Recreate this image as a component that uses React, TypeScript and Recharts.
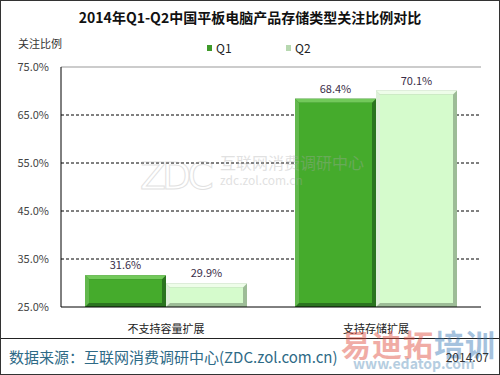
import React from 'react';
import { BarChart, Bar, XAxis, YAxis, CartesianGrid, LabelList, ReferenceLine } from 'recharts';

const categories = ['不支持容量扩展', '支持存储扩展'];
const q1Values = [31.6, 68.4];
const q2Values = [29.9, 70.1];
const yTicks = [25, 35, 45, 55, 65, 75];

const data = categories.map((name, i) => ({ name, Q1: q1Values[i], Q2: q2Values[i] }));

const FONT = '"Noto Sans CJK SC", "Noto Sans", sans-serif';

function makeBevel(main: string, light: string, dark: string) {
  return (props: any) => {
    const { x, y, width: w, height: h } = props;
    if (!w || !h) return null;
    const b = 4;
    return (
      <g>
        <rect x={x} y={y} width={w} height={h} fill={dark} />
        <polygon points={`${x},${y} ${x + w},${y} ${x + w - b},${y + b} ${x + b},${y + b}`} fill={light} />
        <polygon points={`${x},${y} ${x + b},${y + b} ${x + b},${y + h - b} ${x},${y + h}`} fill={light} opacity={0.8} />
        <rect x={x + b} y={y + b} width={w - 2 * b} height={h - 2 * b} fill={main} />
      </g>
    );
  };
}

const q1Shape = makeBevel('#45ab2c', '#72c95a', '#2b7420');
const q2Shape = makeBevel('#d5fbcc', '#eefde9', '#9dbc97');

const legendItems = [
  { label: 'Q1', color: '#3f9a2a', x: 206 },
  { label: 'Q2', color: '#b7d8b0', x: 285 },
];

export default function App() {
  return (
    <div
      style={{
        position: 'fixed',
        left: 0,
        top: 0,
        width: 500,
        height: 375,
        background: '#fff',
        boxSizing: 'border-box',
        border: '1px solid #333',
        fontFamily: FONT,
        overflow: 'hidden',
      }}
    >
      <div style={{ position: 'absolute', top: 6, left: 0, width: 498, textAlign: 'center', fontSize: 14, fontWeight: 'bold', color: '#111' }}>
        2014年Q1-Q2中国平板电脑产品存储类型关注比例对比
      </div>
      <div style={{ position: 'absolute', top: 34, left: 17, fontSize: 11, color: '#333' }}>关注比例</div>
      {legendItems.map((it) => (
        <div
          key={it.label}
          style={{ position: 'absolute', left: it.x, top: 38, display: 'flex', alignItems: 'center', fontSize: 12, color: '#222', zIndex: 2 }}
        >
          <span style={{ width: 5, height: 6, background: it.color, display: 'inline-block', marginRight: 4 }} />
          <span>{it.label}</span>
        </div>
      ))}

      <BarChart
        width={498}
        height={373}
        data={data}
        margin={{ top: 66, right: 18, bottom: 37, left: 10 }}
        barCategoryGap={24}
        barGap={0}
      >
        <CartesianGrid horizontalValues={[35, 45, 55, 65]} vertical={false} stroke="#000" strokeDasharray="3 2" />
        <XAxis
          dataKey="name"
          axisLine={{ stroke: '#000' }}
          tickLine={false}
          tick={{ fill: '#222', fontSize: 11, fontFamily: FONT }}
          tickMargin={12}
        />
        <YAxis
          width={50}
          domain={[25, 75]}
          ticks={yTicks}
          tickFormatter={(v: number) => v.toFixed(1) + '%'}
          axisLine={{ stroke: '#000' }}
          tickLine={false}
          tickMargin={6}
          tick={{ fill: '#444', fontSize: 11, fontFamily: FONT }}
        />
        <YAxis yAxisId="r" orientation="right" width={0} domain={[25, 75]} axisLine={{ stroke: '#999' }} tick={false} tickLine={false} />
        <ReferenceLine y={75} stroke="#999" />
        <Bar dataKey="Q1" fill="#45ab2c" shape={q1Shape} isAnimationActive={false}>
          <LabelList dataKey="Q1" position="top" offset={6} formatter={(v: any) => Number(v).toFixed(1) + '%'} fill="#3a2d48" fontSize={11} />
        </Bar>
        <Bar dataKey="Q2" fill="#d5fbcc" shape={q2Shape} isAnimationActive={false}>
          <LabelList dataKey="Q2" position="top" offset={6} formatter={(v: any) => Number(v).toFixed(1) + '%'} fill="#3a2d48" fontSize={11} />
        </Bar>
      </BarChart>

      {/* ZDC watermark, drawn over the bars */}
      <svg width={498} height={373} style={{ position: 'absolute', left: 0, top: 0, pointerEvents: 'none' }}>
        <g opacity={0.35}>
          <text x={139} y={188} fontSize={38} fill="none" stroke="#aaa" strokeWidth={1} fontFamily="DejaVu Sans" letterSpacing={-4}>ZDC</text>
          <text x={219} y={168} fontSize={16} fill="#aaa" fontFamily={FONT}>互联网消费调研中心</text>
          <text x={219} y={184} fontSize={12} fill="#aaa" fontFamily={FONT}>zdc.zol.com.cn</text>
        </g>
      </svg>

      <div style={{ position: 'absolute', left: 0, top: 337, width: 498, height: 1, background: '#222' }} />
      <div style={{ position: 'absolute', left: 340, top: 320, fontSize: 30, fontWeight: 'bold', letterSpacing: 1, opacity: 0.45 }}>
        <span style={{ color: '#e04a3a' }}>易迪拓</span>
        <span style={{ color: '#3a7ab8' }}>培训</span>
      </div>
      <div style={{ position: 'absolute', left: 352, top: 352, fontSize: 14, fontWeight: 'bold', color: '#7aa6c8', opacity: 0.55 }}>
        www.edatop.com
      </div>
      <div style={{ position: 'absolute', left: 8, top: 345, fontSize: 15, color: '#2e6a86' }}>
        数据来源：互联网消费调研中心(ZDC.zol.com.cn)
      </div>
      <div style={{ position: 'absolute', right: 10, top: 347, fontSize: 12, color: '#333' }}>2014.07</div>
    </div>
  );
}
